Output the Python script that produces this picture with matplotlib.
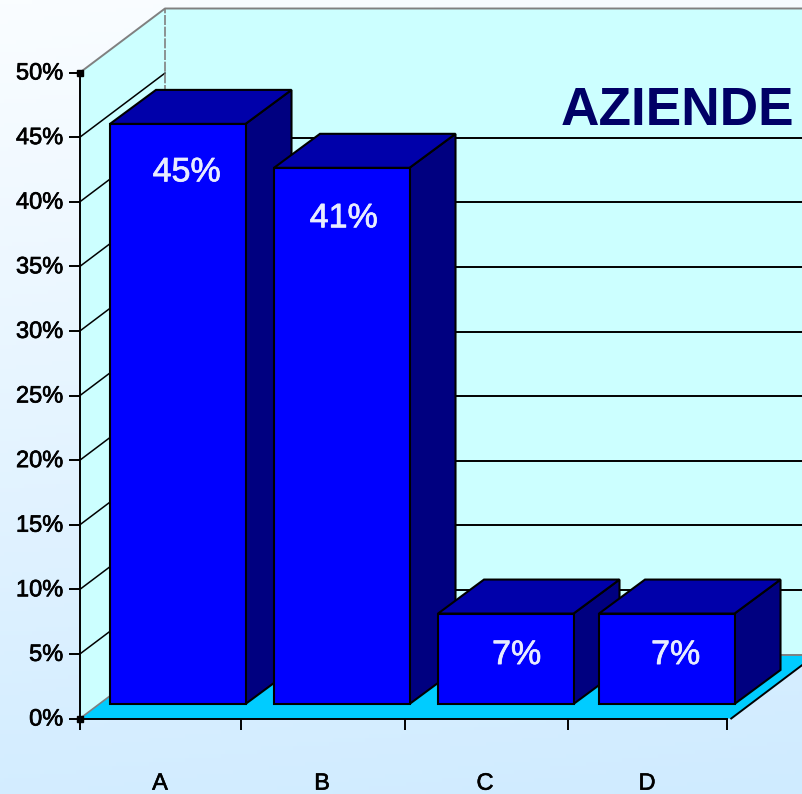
import numpy as np
import matplotlib
matplotlib.use('Agg')
import matplotlib.pyplot as plt
import matplotlib.patheffects as pe
from matplotlib.colors import LinearSegmentedColormap
from matplotlib.patches import Polygon
from matplotlib.transforms import ScaledTranslation

categories = ['A', 'B', 'C', 'D']
bar_values = [44.9, 41.5, 7.0, 7.0]
bar_labels = ['45%', '41%', '7%', '7%']
y_ticks = [0, 5, 10, 15, 20, 25, 30, 35, 40, 45, 50]
back_grid = [5, 10, 15, 20, 25, 30, 35, 40]
side_grid = [5, 10, 15, 20, 25, 30, 35, 40, 45]

PX_X = 162.0   # pixels per category
PX_Y = 12.92   # pixels per percent point
W, H = 803, 794
X0, Y0 = 80, 718.5

# depth of the walls and of the bars, in data units
wall_dx, wall_dy = 85 / PX_X, 64 / PX_Y
bar_dx, bar_dy = 46 / PX_X, 34 / PX_Y
bar_base = 14.5 / PX_Y
bar_width = 135.5 / PX_X
# pixel columns
bar_left = (np.array([110, 274, 438, 599]) - X0) / PX_X
tick_pos = (np.array([80, 241, 405, 568, 727]) - X0) / PX_X
label_pos = (np.array([160, 322, 485, 647]) - X0) / PX_X
# label position, relative to the top centre of the front face (pixels)
label_off = [(9, 49), (2, 51), (11, 42), (9, 42)]

plt.rcParams['font.family'] = ['Liberation Sans', 'DejaVu Sans']

fig = plt.figure(figsize=(W / 100, H / 100), dpi=100)

bg = fig.add_axes([0, 0, 1, 1], zorder=0)
bg_cmap = LinearSegmentedColormap.from_list('bg', ['#FAFDFF', '#CFEBFF'])
yy, xx = np.mgrid[0:1:200j, 0:1:200j]
bg.imshow(yy * 0.9 + xx * 0.1, cmap=bg_cmap, aspect='auto', extent=(0, 1, 0, 1), origin='upper', vmin=0, vmax=1)
bg.axis('off')

ax = fig.add_axes([0, 0, 1, 1], zorder=1)
ax.patch.set_alpha(0)
ax.set_xlim(-X0 / PX_X, (W - X0) / PX_X)
ax.set_ylim(-(H - Y0) / PX_Y, Y0 / PX_Y)

# walls and floor
wall = '#CCFFFF'
right = 4.02
ax.add_patch(Polygon([(0, 0), (0, 50), (wall_dx, 50 + wall_dy), (wall_dx, wall_dy)], fc=wall, ec='none', zorder=1))
ax.add_patch(Polygon([(wall_dx, wall_dy), (wall_dx, 50 + wall_dy), (right + wall_dx, 50 + wall_dy), (right + wall_dx, wall_dy)],
                     fc=wall, ec='none', zorder=1))
ax.add_patch(Polygon([(0, 0), (right, 0), (right + wall_dx, wall_dy), (wall_dx, wall_dy)], fc='#00CCFF', ec='none', zorder=2))

# grid lines on side and back wall
for t in side_grid:
    ax.plot([0, wall_dx], [t, t + wall_dy], color='black', lw=1.1, zorder=3)
for t in back_grid:
    ax.plot([wall_dx, right + wall_dx], [t + wall_dy, t + wall_dy], color='black', lw=1.4, zorder=3)

# grey frame
ax.plot([0, wall_dx, right + wall_dx], [50, 50 + wall_dy, 50 + wall_dy], color='#808080', lw=1.4, zorder=3)
ax.plot([wall_dx, wall_dx], [wall_dy, 50 + wall_dy], color='#808080', lw=1.2, ls=(0, (6, 1)), zorder=3)
ax.plot([0, wall_dx], [0, wall_dy], color='#808080', lw=1.2, zorder=3)
ax.plot([wall_dx, right + wall_dx], [wall_dy, wall_dy], color='#808080', lw=1.4, zorder=3)
ax.plot([right, right + wall_dx], [0, wall_dy], color='black', lw=1.4, zorder=3)

# bars
bars = ax.bar(bar_left, bar_values, width=bar_width, bottom=bar_base, align='edge',
              color='#0000FF', edgecolor='black', linewidth=1.5, zorder=5)
for b, lab, off in zip(bars, bar_labels, label_off):
    l, r = b.get_x(), b.get_x() + b.get_width()
    bot, top = b.get_y(), b.get_y() + b.get_height()
    ax.add_patch(Polygon([(r, bot), (r, top), (r + bar_dx, top + bar_dy), (r + bar_dx, bot + bar_dy)],
                         fc='#000080', ec='black', lw=1.5, zorder=4))
    ax.add_patch(Polygon([(l, top), (r, top), (r + bar_dx, top + bar_dy), (l + bar_dx, top + bar_dy)],
                         fc='#0000AA', ec='black', lw=1.5, zorder=4))
    ax.text((l + r) / 2 + off[0] / PX_X, top - off[1] / PX_Y, lab, color='#E8ECFF', fontsize=24.5,
            ha='center', va='center', zorder=6,
            path_effects=[pe.withStroke(linewidth=0.5, foreground='#E8ECFF')])

ax.text((794 - X0) / PX_X, (Y0 - 124.5) / PX_Y, 'AZIENDE', color='#000066', fontsize=38.3, fontweight='bold',
        ha='right', va='baseline', zorder=6)

# axes
for s in ['top', 'right']:
    ax.spines[s].set_visible(False)
for s in ['left', 'bottom']:
    ax.spines[s].set_position(('data', 0))
    ax.spines[s].set_linewidth(1.4)
    ax.spines[s].set_zorder(7)
ax.spines['left'].set_bounds(0, 50)
ax.spines['bottom'].set_bounds(tick_pos[0], tick_pos[-1])

ax.set_yticks(y_ticks)
ax.set_yticklabels([f'{t}%' for t in y_ticks])
ax.tick_params(axis='y', length=8, width=1.4, pad=4, labelsize=17)
lift = ScaledTranslation(0, 1.5 / 100, fig.dpi_scale_trans)
for t in ax.get_yticklabels():
    t.set_transform(t.get_transform() + lift)
    t.set_path_effects([pe.withStroke(linewidth=0.5, foreground='black')])
ax.set_xticks(tick_pos)
ax.set_xticklabels([])
ax.tick_params(axis='x', which='major', length=8, width=1.4)
ax.set_xticks(label_pos, minor=True)
ax.set_xticklabels(categories, minor=True)
ax.tick_params(axis='x', which='minor', length=0, pad=39, labelsize=17)
for t in ax.get_xticklabels(minor=True):
    t.set_path_effects([pe.withStroke(linewidth=0.4, foreground='black')])

# little square markers at the axis corners
ax.plot([0, 0], [0, 50], ls='none', marker='s', ms=5, color='black', zorder=8, clip_on=False)

fig.savefig('out.png', dpi=100)
